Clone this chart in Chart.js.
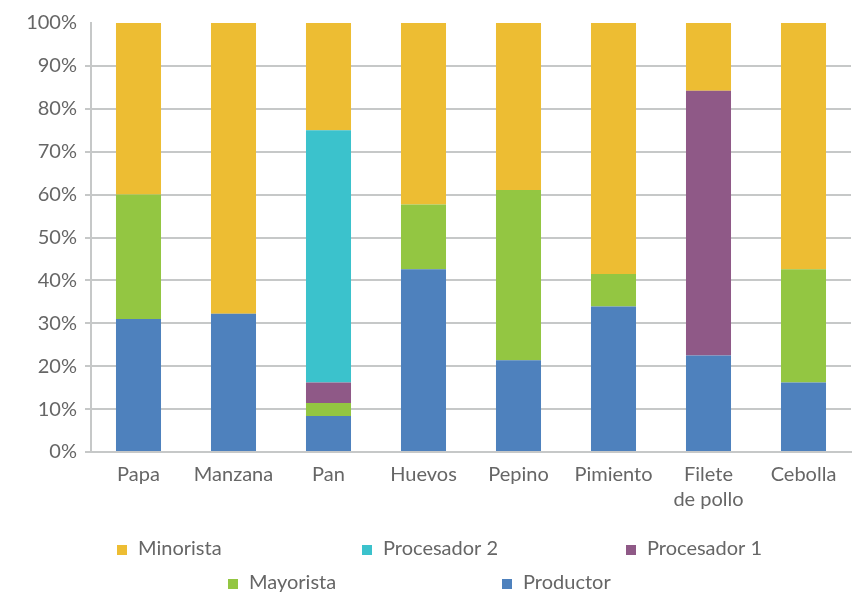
<!DOCTYPE html>
<html>
<head>
<meta charset="utf-8">
<script src="https://cdn.jsdelivr.net/npm/chart.js@4.4.1/dist/chart.umd.min.js"></script>
<style>
  html, body { margin: 0; padding: 0; background: #ffffff; }
  #wrap { width: 854px; height: 595px; }
</style>
</head>
<body>
<div id="wrap"><canvas id="chart" width="854" height="595"></canvas></div>
<script>
// Participación de cada eslabón de la cadena en el precio final (%)
const categories = ['Papa', 'Manzana', 'Pan', 'Huevos', 'Pepino', 'Pimiento', ['Filete', 'de pollo'], 'Cebolla'];
const productor   = [31.0, 32.2,  8.4, 42.6, 21.4, 33.9, 22.5, 16.2];
const mayorista   = [29.0,  0.0,  3.0, 15.1, 39.7,  7.6,  0.0, 26.4];
const procesador1 = [ 0.0,  0.0,  4.8,  0.0,  0.0,  0.0, 61.7,  0.0];
const procesador2 = [ 0.0,  0.0, 58.8,  0.0,  0.0,  0.0,  0.0,  0.0];
const minorista   = [40.0, 67.8, 25.0, 42.3, 38.9, 58.5, 15.8, 57.4];
const yTicks = [0, 10, 20, 30, 40, 50, 60, 70, 80, 90, 100];

const FONT = 'Lato, "Open Sans", sans-serif';
const TEXT = '#666666';
const GRID = '#c6c8c8';

const COLORS = {
  'Productor': '#4e81bd',
  'Mayorista': '#93c642',
  'Procesador 1': '#8f5987',
  'Procesador 2': '#3bc2cc',
  'Minorista': '#edbd33'
};

// Legend laid out in two centred rows, drawn under the axis labels
const rowLegend = {
  id: 'rowLegend',
  afterDraw(chart) {
    const ctx = chart.ctx;
    const rows = [
      { y: 549, items: [['Minorista', 117], ['Procesador 2', 362], ['Procesador 1', 626]] },
      { y: 583, items: [['Mayorista', 228], ['Productor', 502]] }
    ];
    ctx.save();
    ctx.font = '20px ' + FONT;
    ctx.textBaseline = 'middle';
    ctx.textAlign = 'left';
    rows.forEach(row => {
      row.items.forEach(([label, x]) => {
        const ds = chart.data.datasets.find(d => d.label === label);
        ctx.fillStyle = ds.backgroundColor;
        ctx.fillRect(x, row.y - 4, 10, 10);
        ctx.fillStyle = TEXT;
        ctx.fillText(label, x + 21, row.y);
      });
    });
    ctx.restore();
  }
};

const makeSet = (label, data) => ({
  label,
  data,
  backgroundColor: COLORS[label],
  borderWidth: 0,
  barPercentage: 0.474,
  categoryPercentage: 1.0
});

new Chart(document.getElementById('chart'), {
  type: 'bar',
  data: {
    labels: categories,
    datasets: [
      makeSet('Productor', productor),
      makeSet('Mayorista', mayorista),
      makeSet('Procesador 1', procesador1),
      makeSet('Procesador 2', procesador2),
      makeSet('Minorista', minorista)
    ]
  },
  options: {
    responsive: false,
    animation: false,
    devicePixelRatio: 1,
    layout: { padding: { top: 23, right: 3, bottom: 0, left: 0 } },
    plugins: {
      legend: { display: false },
      tooltip: { enabled: false }
    },
    scales: {
      x: {
        stacked: true,
        grid: { display: false, drawTicks: false },
        border: { display: true, color: GRID, width: 2 },
        ticks: {
          color: TEXT,
          font: { family: FONT, size: 20, lineHeight: 1.25 },
          padding: 10,
          maxRotation: 0,
          autoSkip: false
        },
        afterFit(scale) { scale.height = 143; }
      },
      y: {
        stacked: true,
        min: 0,
        max: 100,
        afterBuildTicks(scale) { scale.ticks = yTicks.map(v => ({ value: v })); },
        grid: {
          color: ctx => (ctx.tick && ctx.tick.value === 100) ? 'rgba(0,0,0,0)' : GRID,
          lineWidth: 2,
          drawTicks: true,
          tickLength: 6
        },
        border: { display: true, color: GRID, width: 2 },
        ticks: {
          color: TEXT,
          font: { family: FONT, size: 20 },
          padding: 8,
          callback: v => v + '%'
        },
        afterFit(scale) { scale.width = 91; }
      }
    }
  },
  plugins: [rowLegend]
});
</script>
</body>
</html>
